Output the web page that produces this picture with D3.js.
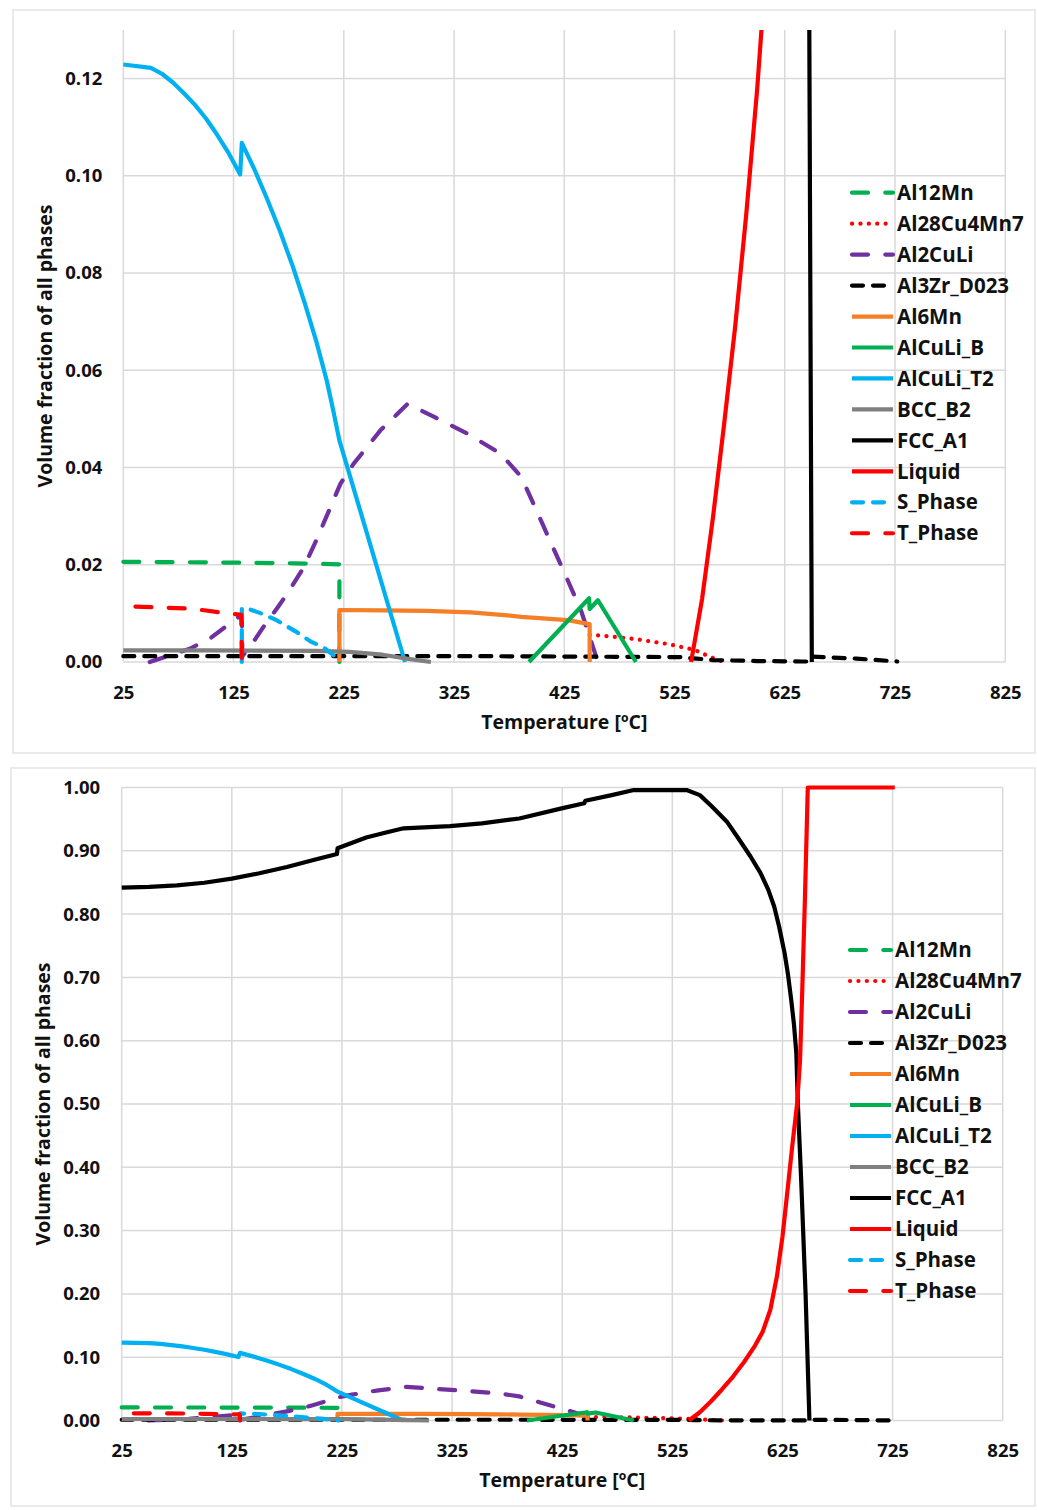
<!DOCTYPE html>
<html><head><meta charset="utf-8">
<script src="https://cdn.jsdelivr.net/npm/d3@7"></script>
<style>
body{margin:0;background:#fff;}
svg{display:block;}
</style>
</head><body>
<svg id="chart" width="1037" height="1510"></svg>
<script>
// ---------------- DATA ----------------
const tempTicks = [25, 125, 225, 325, 425, 525, 625, 725, 825];
const topFracTicks = [0, 0.02, 0.04, 0.06, 0.08, 0.10, 0.12];
const bottomFracTicks = [0, 0.1, 0.2, 0.3, 0.4, 0.5, 0.6, 0.7, 0.8, 0.9, 1.0];
const xTitle = "Temperature [ºC]";
const yTitle = "Volume fraction of all phases";

const phaseNames = ["Al12Mn", "Al28Cu4Mn7", "Al2CuLi", "Al3Zr_D023", "Al6Mn", "AlCuLi_B",
  "AlCuLi_T2", "BCC_B2", "FCC_A1", "Liquid", "S_Phase", "T_Phase"];

const al12MnTemp = [25, 100, 180, 221, 221];
const al12MnFrac = [0.0206, 0.0205, 0.0203, 0.0201, 0];

const al28Cu4Mn7Temp = [448, 470, 490, 519, 543, 558, 570];
const al28Cu4Mn7Frac = [0.0056, 0.0052, 0.0047, 0.0037, 0.0025, 0.0010, 0];

const al2CuLiTemp = [49, 86, 104, 128, 132.5, 133, 145, 155, 165, 175, 189, 200, 210, 222, 234, 258, 283, 307, 337, 367, 386, 405, 424, 440, 455.5];
const al2CuLiFrac = [0, 0.0028, 0.0049, 0.0090, 0.0097, 0.0012, 0.0048, 0.0082, 0.0112, 0.0145, 0.0196, 0.0250, 0.0303, 0.0367, 0.0408, 0.0476, 0.0531, 0.0504, 0.0470, 0.0429, 0.0381, 0.0285, 0.0189, 0.0107, 0];

const al3ZrTemp = [25, 200, 350, 450, 530, 545, 560, 600, 640, 648, 649.5, 690, 727];
const al3ZrFrac = [0.0012, 0.0012, 0.0012, 0.0011, 0.0010, 0.0007, 0.0004, 0.0002, 0.0001, 0.0001, 0.0011, 0.0007, 0.0001];

const al6MnTemp = [221, 221, 260, 300, 340, 368, 386, 428, 448, 448];
const al6MnFrac = [0, 0.0107, 0.0106, 0.0105, 0.0102, 0.0097, 0.0093, 0.0086, 0.0078, 0];

const alCuLiBTemp = [393, 447.5, 448, 455.5, 490];
const alCuLiBFrac = [0, 0.0131, 0.0109, 0.0127, 0];

const alCuLiT2Temp = [25, 50, 60, 70, 80, 90, 100, 110, 120, 131, 132.5, 144, 155, 167, 179, 190, 200, 209.5, 215, 221, 280.5];
const alCuLiT2Frac = [0.1229, 0.1222, 0.1210, 0.1192, 0.1170, 0.1146, 0.1118, 0.1085, 0.1049, 0.1003, 0.1068, 0.1013, 0.0955, 0.0887, 0.0812, 0.0735, 0.0660, 0.0579, 0.0522, 0.0456, 0];

const bccB2Temp = [25, 100, 200, 230, 260, 285, 304];
const bccB2Frac = [0.0024, 0.0024, 0.0023, 0.0021, 0.0015, 0.0006, 0];

const fccA1Temp = [25, 50, 75, 100, 125, 150, 175, 200, 220.5, 221, 247, 265, 281, 323, 352, 386, 424.5, 445, 446, 470, 490, 538, 550, 561, 575, 586, 596, 605, 612, 617.5, 622, 627, 630, 633, 635.5, 637.6, 639, 642, 646, 649.5];
const fccA1Frac = [0.8417, 0.8430, 0.8455, 0.8495, 0.8560, 0.8645, 0.8745, 0.8860, 0.8950, 0.9040, 0.9210, 0.9290, 0.9355, 0.9390, 0.9434, 0.9510, 0.9670, 0.9750, 0.9790, 0.9880, 0.9960, 0.9960, 0.9880, 0.9700, 0.9450, 0.9170, 0.8910, 0.8650, 0.8390, 0.8120, 0.7800, 0.7380, 0.7050, 0.6640, 0.6250, 0.5800, 0.5000, 0.3800, 0.2000, 0];

const liquidTemp = [540, 550, 560, 570, 580, 590, 600, 607, 614, 620, 625, 630, 634, 638.3, 641, 643, 645.5, 648, 727];
const liquidFrac = [0, 0.013, 0.030, 0.049, 0.069, 0.092, 0.118, 0.140, 0.175, 0.228, 0.290, 0.370, 0.435, 0.500, 0.570, 0.680, 0.830, 1.0, 1.0];

const sPhaseTemp = [132.5, 132.5, 140, 150, 164, 182, 195, 206, 215, 222];
const sPhaseFrac = [0, 0.0111, 0.0108, 0.0100, 0.0086, 0.0062, 0.0042, 0.0031, 0.0015, 0];

const tPhaseTemp = [36, 60, 85, 100, 116, 132, 132.5];
const tPhaseFrac = [0.0114, 0.0112, 0.0110, 0.0106, 0.0101, 0.0097, 0];

const phaseTemps = [al12MnTemp, al28Cu4Mn7Temp, al2CuLiTemp, al3ZrTemp, al6MnTemp, alCuLiBTemp,
  alCuLiT2Temp, bccB2Temp, fccA1Temp, liquidTemp, sPhaseTemp, tPhaseTemp];
const phaseFracs = [al12MnFrac, al28Cu4Mn7Frac, al2CuLiFrac, al3ZrFrac, al6MnFrac, alCuLiBFrac,
  alCuLiT2Frac, bccB2Frac, fccA1Frac, liquidFrac, sPhaseFrac, tPhaseFrac];

// ---------------- STYLES ----------------
const LONG = "16,17.3", DASH = "11,10", DOT = "0.1,8.3";
const phaseStyles = [
  {color: "#00B050", dash: LONG},
  {color: "#FF0000", dash: DOT},
  {color: "#7030A0", dash: LONG},
  {color: "#000000", dash: DASH},
  {color: "#F47F26", dash: null},
  {color: "#00B050", dash: null},
  {color: "#00B0F0", dash: null},
  {color: "#808080", dash: null},
  {color: "#000000", dash: null},
  {color: "#FF0000", dash: null},
  {color: "#00B0F0", dash: DASH},
  {color: "#FF0000", dash: LONG}
];

const series = phaseNames.map((name, i) => ({
  name,
  style: phaseStyles[i],
  points: phaseTemps[i].map((t, j) => ({t, v: phaseFracs[i][j]}))
}));

const FONT = "'Open Sans', 'Noto Sans', sans-serif";
const svg = d3.select("#chart");

function drawPanel(cfg) {
  const g = svg.append("g");
  g.append("rect")
    .attr("x", cfg.box[0]).attr("y", cfg.box[1])
    .attr("width", cfg.box[2]).attr("height", cfg.box[3])
    .attr("fill", "#fff").attr("stroke", "#E3E3E3").attr("stroke-width", 1.5);

  const x = d3.scaleLinear().domain([25, 825]).range([cfg.left, cfg.right]);
  const y = d3.scaleLinear().domain(cfg.yDomain).range([cfg.bottom, cfg.top]);

  // grid
  g.append("g").selectAll("line").data(tempTicks).join("line")
    .attr("x1", d => x(d)).attr("x2", d => x(d))
    .attr("y1", cfg.top).attr("y2", cfg.bottom)
    .attr("stroke", "#D9D9D9").attr("stroke-width", 1.5);
  g.append("g").selectAll("line").data(cfg.yTicks).join("line")
    .attr("x1", cfg.left).attr("x2", cfg.right)
    .attr("y1", d => y(d)).attr("y2", d => y(d))
    .attr("stroke", "#D9D9D9").attr("stroke-width", 1.5);

  // axes
  const xa = g.append("g").attr("transform", `translate(0,${cfg.bottom})`)
    .call(d3.axisBottom(x).tickValues(tempTicks).tickSize(0).tickPadding(cfg.xPad).tickFormat(d3.format("d")));
  const ya = g.append("g").attr("transform", `translate(${cfg.left},0)`)
    .call(d3.axisLeft(y).tickValues(cfg.yTicks).tickSize(0).tickPadding(cfg.yPad).tickFormat(d3.format(".2f")));
  [xa, ya].forEach(a => {
    a.select(".domain").remove();
    a.attr("font-family", FONT).attr("font-size", 18.5).attr("font-weight", 700);
    a.selectAll("text").attr("fill", "#111");
  });

  g.append("text").attr("x", (cfg.left + cfg.right) / 2).attr("y", cfg.xTitleY)
    .attr("text-anchor", "middle").attr("font-family", FONT).attr("font-size", 19.5)
    .attr("font-weight", 700).attr("fill", "#111").text(xTitle);
  g.append("text")
    .attr("transform", `translate(${cfg.yTitleX},${(cfg.top + cfg.bottom) / 2}) rotate(-90)`)
    .attr("text-anchor", "middle").attr("dy", "0.35em").attr("font-family", FONT).attr("font-size", 19.5)
    .attr("font-weight", 700).attr("fill", "#111").text(yTitle);

  // clip
  const cid = "clip" + cfg.id;
  g.append("clipPath").attr("id", cid).append("rect")
    .attr("x", cfg.left - 10).attr("y", cfg.top - cfg.clipTopPad)
    .attr("width", cfg.right - cfg.left + 20).attr("height", cfg.bottom - cfg.top + cfg.clipTopPad + 10);

  const line = d3.line().x(d => x(d.t)).y(d => y(d.v));
  const lg = g.append("g").attr("clip-path", `url(#${cid})`);
  lg.selectAll("path").data(series).join("path")
    .attr("d", d => line(d.points))
    .attr("fill", "none")
    .attr("stroke", d => d.style.color)
    .attr("stroke-width", 4.2)
    .attr("stroke-linejoin", "round")
    .attr("stroke-linecap", d => d.style.dash ? "round" : "butt")
    .attr("stroke-dasharray", d => d.style.dash);

  // legend
  const leg = g.append("g");
  const items = leg.selectAll("g").data(series).join("g")
    .attr("transform", (d, i) => `translate(0,${cfg.legY + i * cfg.legStep})`);
  items.append("line")
    .attr("x1", cfg.legX).attr("x2", cfg.legX + 41)
    .attr("stroke", d => d.style.color).attr("stroke-width", 4.2)
    .attr("stroke-linecap", d => d.style.dash ? "round" : "butt")
    .attr("stroke-dasharray", d => d.style.dash);
  items.append("text").attr("x", cfg.legX + 45).attr("dy", "0.35em")
    .attr("font-family", FONT).attr("font-size", 20.5).attr("font-weight", 700).attr("fill", "#111")
    .text(d => d.name);
}

drawPanel({
  id: "top", box: [13, 10, 1022, 743],
  left: 123.3, right: 1005.3, top: 30, bottom: 662,
  yDomain: [0, 0.13], yTicks: topFracTicks,
  xPad: 23.4, yPad: 21, xTitleY: 729, yTitleX: 45, clipTopPad: 0,
  legX: 852, legY: 192.7, legStep: 30.96
});
drawPanel({
  id: "bot", box: [11, 768, 1024, 738],
  left: 121.7, right: 1002.7, top: 787.5, bottom: 1420.5,
  yDomain: [0, 1.0], yTicks: bottomFracTicks,
  xPad: 23, yPad: 21.5, xTitleY: 1487, yTitleX: 43, clipTopPad: 4,
  legX: 850, legY: 950, legStep: 31
});
</script>
</body></html>
